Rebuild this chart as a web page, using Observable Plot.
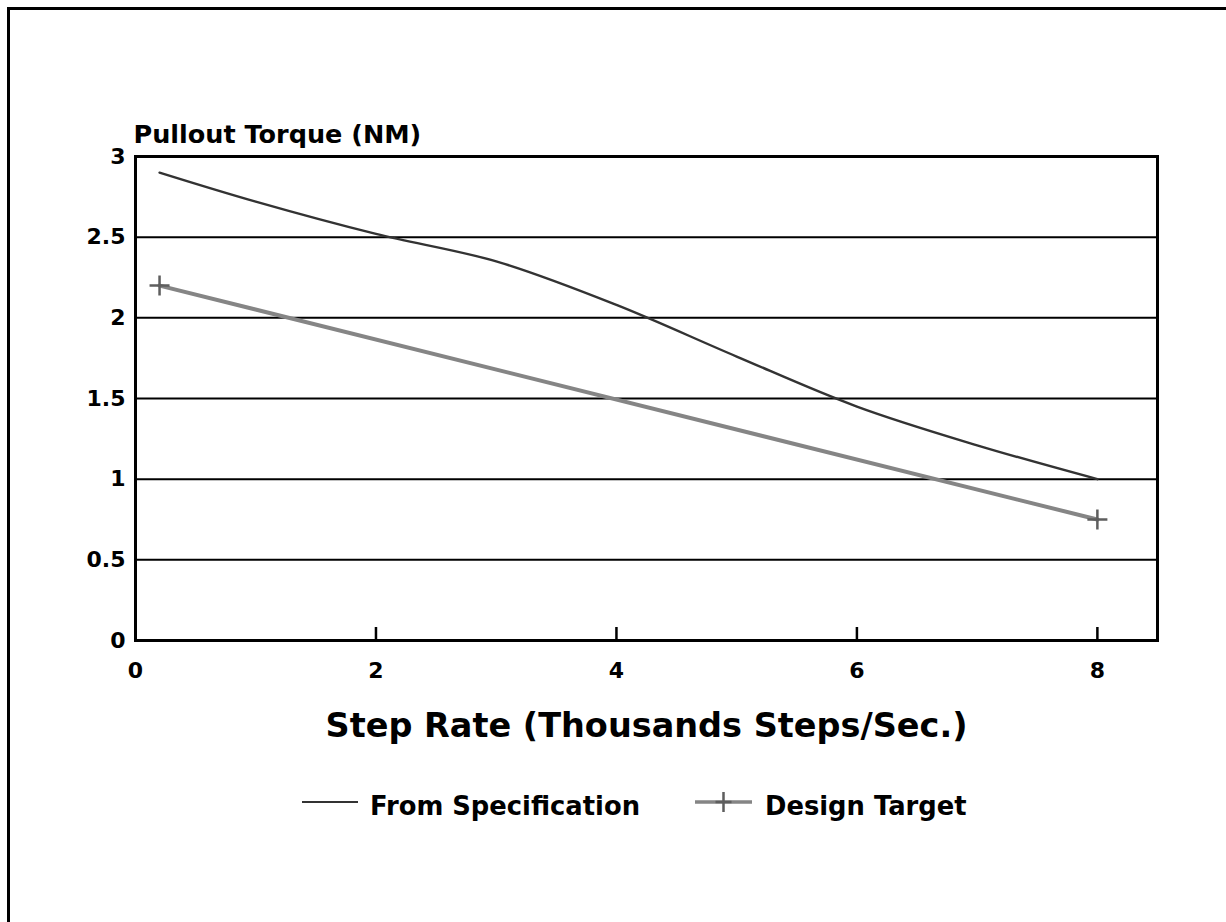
<!DOCTYPE html>
<html>
<head>
<meta charset="utf-8">
<script src="https://cdn.jsdelivr.net/npm/d3@7"></script>
<script src="https://cdn.jsdelivr.net/npm/@observablehq/plot@0.6"></script>
<style>
  html, body { margin: 0; padding: 0; background: #fff; width: 1226px; height: 922px; overflow: hidden; }
  #page { position: relative; width: 1226px; height: 922px; }
  #border { position: absolute; left: 7px; top: 7px; width: 1300px; height: 1000px;
            border-left: 3px solid #000; border-top: 3px solid #000; box-sizing: border-box; }
  #chart { position: absolute; left: 0; top: 0; }
  #legend { position: absolute; left: 0; top: 770px; }
  svg text { font-family: "DejaVu Sans", "Liberation Sans", Arial, sans-serif; font-weight: bold; fill: #000; }
</style>
</head>
<body>
<div id="page">
  <div id="border"></div>
  <div id="chart"></div>
  <div id="legend"></div>
</div>
<script>
// ---- data ----
const specX = [0.2, 1, 2, 3, 4, 5, 6, 7, 8];
const specY = [2.9, 2.72, 2.52, 2.35, 2.08, 1.76, 1.45, 1.21, 1.0];
const targetX = [0.2, 8];
const targetY = [2.2, 0.75];
const xTicks = [0, 2, 4, 6, 8];
const yTicks = [0, 0.5, 1, 1.5, 2, 2.5, 3];
const yTitle = "Pullout Torque (NM)";
const xTitle = "Step Rate (Thousands Steps/Sec.)";
const seriesNames = ["From Specification", "Design Target"];

const spec = specX.map((x, i) => ({x, y: specY[i]}));
const target = targetX.map((x, i) => ({x, y: targetY[i]}));

const specColor = "#333333";
const targetColor = "#858585";

const H = 760, MT = 156, MB = H - 640;
const chart = Plot.plot({
  width: 1226,
  height: H,
  marginLeft: 135,
  marginRight: 69,
  marginTop: MT,
  marginBottom: MB,
  style: {background: "transparent", fontFamily: "DejaVu Sans, sans-serif", overflow: "visible"},
  x: {domain: [0, 8.5], ticks: xTicks, label: null},
  y: {domain: [0, 3], ticks: yTicks, label: null},
  marks: [
    Plot.ruleY(yTicks.slice(1, -1), {y: d => d, stroke: "#000", strokeWidth: 2}),
    Plot.ruleX(xTicks.slice(1), {x: d => d, insetTop: (H - MT - MB) - 13, stroke: "#000", strokeWidth: 2.5}),
    Plot.line(target, {x: "x", y: "y", stroke: targetColor, strokeWidth: 4}),
    Plot.dot(target, {x: "x", y: "y", symbol: "plus", r: 6.5, stroke: "#5e5e5e", strokeWidth: 2.5}),
    Plot.line(spec, {x: "x", y: "y", curve: "catmull-rom", stroke: specColor, strokeWidth: 2.4}),
    Plot.frame({stroke: "#000", strokeWidth: 3}),
    Plot.axisX({ticks: xTicks, tickSize: 0, tickPadding: 22, fontSize: 22, tickFormat: d => String(d)}),
    Plot.axisY({ticks: yTicks, tickSize: 0, tickPadding: 10, fontSize: 22, tickFormat: d => String(d)}),
    Plot.text([yTitle], {text: d => d, frameAnchor: "top-left", textAnchor: "start", lineAnchor: "bottom", dx: -2, dy: -14, fontSize: 25.5}),
    Plot.text([xTitle], {text: d => d, frameAnchor: "bottom", textAnchor: "middle", lineAnchor: "bottom", dy: 96, fontSize: 33.5})
  ]
});
document.getElementById("chart").appendChild(chart);

// ---- legend ----
const lg = d3.select("#legend").append("svg").attr("width", 1226).attr("height", 80);
const items = [
  {name: seriesNames[0], x0: 302, x1: 358, tx: 370, color: specColor, w: 2, marker: false},
  {name: seriesNames[1], x0: 695, x1: 752, tx: 765, color: targetColor, w: 3.5, marker: true}
];
const ly = 32;
items.forEach(it => {
  lg.append("line").attr("x1", it.x0).attr("x2", it.x1).attr("y1", ly).attr("y2", ly)
    .attr("stroke", it.color).attr("stroke-width", it.w);
  if (it.marker) {
    const cx = (it.x0 + it.x1) / 2;
    lg.append("path").attr("d", `M${cx - 8},${ly}H${cx + 8}M${cx},${ly - 10}V${ly + 10}`)
      .attr("stroke", "#5e5e5e").attr("stroke-width", 2.5).attr("fill", "none");
  }
  lg.append("text").attr("x", it.tx).attr("y", ly + 13).attr("font-size", 25.8).text(it.name);
});
</script>
</body>
</html>
